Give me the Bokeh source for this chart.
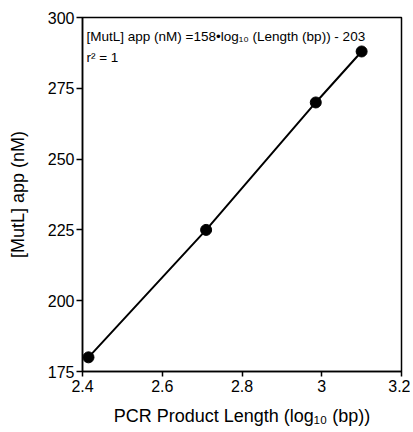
from bokeh.plotting import figure
from bokeh.models import FixedTicker, Label
from bokeh.embed import file_html
from bokeh.resources import INLINE

log_length = [2.415, 2.71, 2.985, 3.10]
mutl_app = [180, 225, 270, 288]
x_ticks = [2.4, 2.6, 2.8, 3.0, 3.2]
x_tick_labels = ["2.4", "2.6", "2.8", "3", "3.2"]
y_ticks = [175, 200, 225, 250, 275, 300]

FONT = "Liberation Sans"

p = figure(width=410, height=430, x_range=(2.4, 3.2), y_range=(175, 300),
           output_backend="svg", toolbar_location=None,
           min_border_left=82, min_border_right=9, min_border_top=17, min_border_bottom=59)
p.xgrid.visible = False
p.ygrid.visible = False
p.outline_line_color = "black"
p.outline_line_width = 1.5
p.background_fill_color = "white"

p.line(log_length, mutl_app, line_color="black", line_width=2)
p.scatter(log_length, mutl_app, size=11, fill_color="black", line_color="black")

for ax in (p.xaxis[0], p.yaxis[0]):
    ax.axis_line_width = 1.5
    ax.major_tick_line_width = 1.5
    ax.major_tick_in = 0
    ax.minor_tick_line_color = None
    ax.major_label_text_font = FONT
    ax.major_label_text_font_size = "16px"
    ax.major_label_text_color = "black"
    ax.axis_label_text_font = FONT
    ax.axis_label_text_font_size = "18px"
    ax.axis_label_text_font_style = "normal"
    ax.axis_label_text_color = "black"

p.xaxis[0].ticker = FixedTicker(ticks=x_ticks)
p.xaxis[0].major_label_overrides = {t: l for t, l in zip(x_ticks, x_tick_labels)}
p.yaxis[0].ticker = FixedTicker(ticks=y_ticks)
p.xaxis[0].axis_label = "PCR Product Length (log\u2081\u2080 (bp))"
p.yaxis[0].axis_label = "[MutL] app (nM)"
p.xaxis[0].major_tick_out = 5
p.yaxis[0].major_tick_out = 6
p.xaxis[0].major_label_standoff = 3
p.yaxis[0].major_label_standoff = 2
p.xaxis[0].axis_label_standoff = 11
p.yaxis[0].axis_label_standoff = 17

eq = Label(x=2.41, y=293.2, text="[MutL] app (nM) =158\u2022log\u2081\u2080 (Length (bp)) - 203",
           text_font=FONT, text_font_size="13.5px", text_color="black",
           text_baseline="alphabetic")
r2 = Label(x=2.41, y=285.8, text="r\u00b2 = 1",
           text_font=FONT, text_font_size="13.5px", text_color="black",
           text_baseline="alphabetic")
p.add_layout(eq)
p.add_layout(r2)

open("out.html", "w").write(file_html(p, INLINE))
